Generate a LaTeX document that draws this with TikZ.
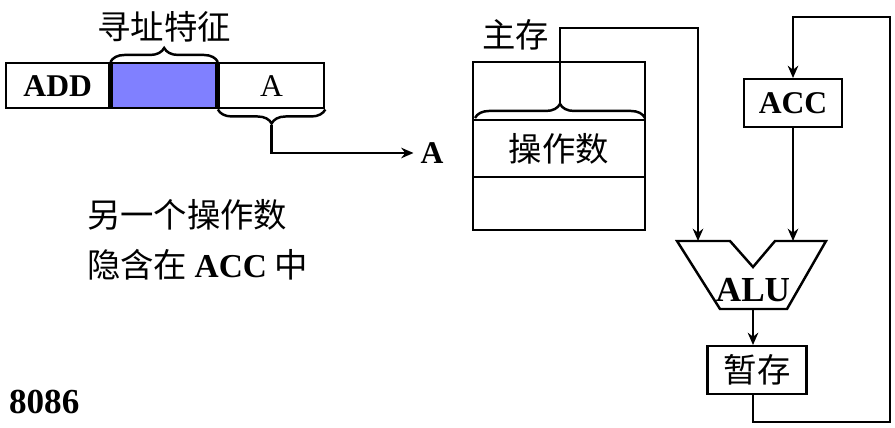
\documentclass[tikz,border=0pt]{standalone}
\usepackage{fontspec}
\setmainfont{Liberation Serif}
\newfontfamily\cjk{Noto Sans CJK SC}
\usetikzlibrary{arrows,arrows.meta,positioning,decorations.pathreplacing}

\begin{document}
\begin{tikzpicture}[
    x=0.02cm, y=-0.02cm,
    line width=1.4pt,
    arr/.style = {-{Stealth[length=7pt,width=6pt]}},
    field/.style = {
      draw,
      minimum height = 0.9cm,
      inner sep = 0pt,
      font = \bfseries\fontsize{18}{18}\selectfont
    },
    reg/.style = {
      draw,
      minimum height = 0.95cm,
      inner sep = 0pt,
      font = \bfseries\fontsize{18}{18}\selectfont
    },
    brace/.style = {
      decorate,
      decoration = {brace, amplitude = 8pt}
    },
    cn/.style = {font = \cjk\fontsize{19}{19}\selectfont}
  ]
  \useasboundingbox (0,0) rectangle (895,428);

  % instruction word
  \node[field, minimum width=2.06cm, anchor=north west] (op) at (5,62) {ADD};
  \node[field, minimum width=2.1cm, fill=blue!50, right=0pt of op] (mode) {};
  \node[field, minimum width=2.1cm, font=\fontsize{18}{18}\selectfont, right=0pt of mode] (addr) {A};

  \draw[brace] (mode.north west) -- node[cn, above=7pt] (modetxt) {寻址特征} (mode.north east);
  \draw[brace] (addr.south east) -- coordinate[below=9pt] (addrtip) (addr.south west);

  \node[font=\bfseries\fontsize{18}{18}\selectfont] (A) at (432,153) {A};
  \draw[arr] (addrtip) |- (A);

  \node[cn, anchor=west] (note1) at (80,215) {另一个操作数};
  \node[cn, anchor=west] (note2) at (80,265) {隐含在 {\rmfamily\bfseries ACC} 中};
  \node[font=\bfseries\fontsize{20}{20}\selectfont, anchor=west] (model) at (2,402) {8086};

  % main memory
  \node[cn, anchor=west] (memtxt) at (475,35) {主存};
  \draw (473,62) rectangle (645,230);
  \draw (473,120) -- (645,120);
  \draw (473,177) -- (645,177);
  \node[cn] (operand) at (559,149) {操作数};
  \draw[brace] (475,118) -- coordinate[above=8pt] (memtip) (645,118);

  % ALU
  \draw (677,241) -- (730,241) -- (753,267) -- (775,241) -- (826,241)
    -- (787,309) -- (720,309) -- cycle;
  \node[font=\bfseries\fontsize{20}{20}\selectfont] (alu) at (753,290) {ALU};
  \coordinate (aluL) at (698,241);
  \coordinate (aluR) at (793,241);
  \coordinate (aluB) at (753,309);

  \node[reg, minimum width=1.96cm] (acc) at (793,103) {ACC};
  \node[reg, minimum width=1.98cm, font=\cjk\fontsize{19}{19}\selectfont] (tmp) at (757,370) {暂存};

  \draw[arr] (memtip) |- (698,28) -- (aluL);
  \draw[arr] (acc) -- (aluR);
  \draw[arr] (aluB) -- (tmp.north -| aluB);
  \draw[arr] (tmp.south -| aluB) |- (890,422) |- (793,17) -- (acc);

\end{tikzpicture}
\end{document}
